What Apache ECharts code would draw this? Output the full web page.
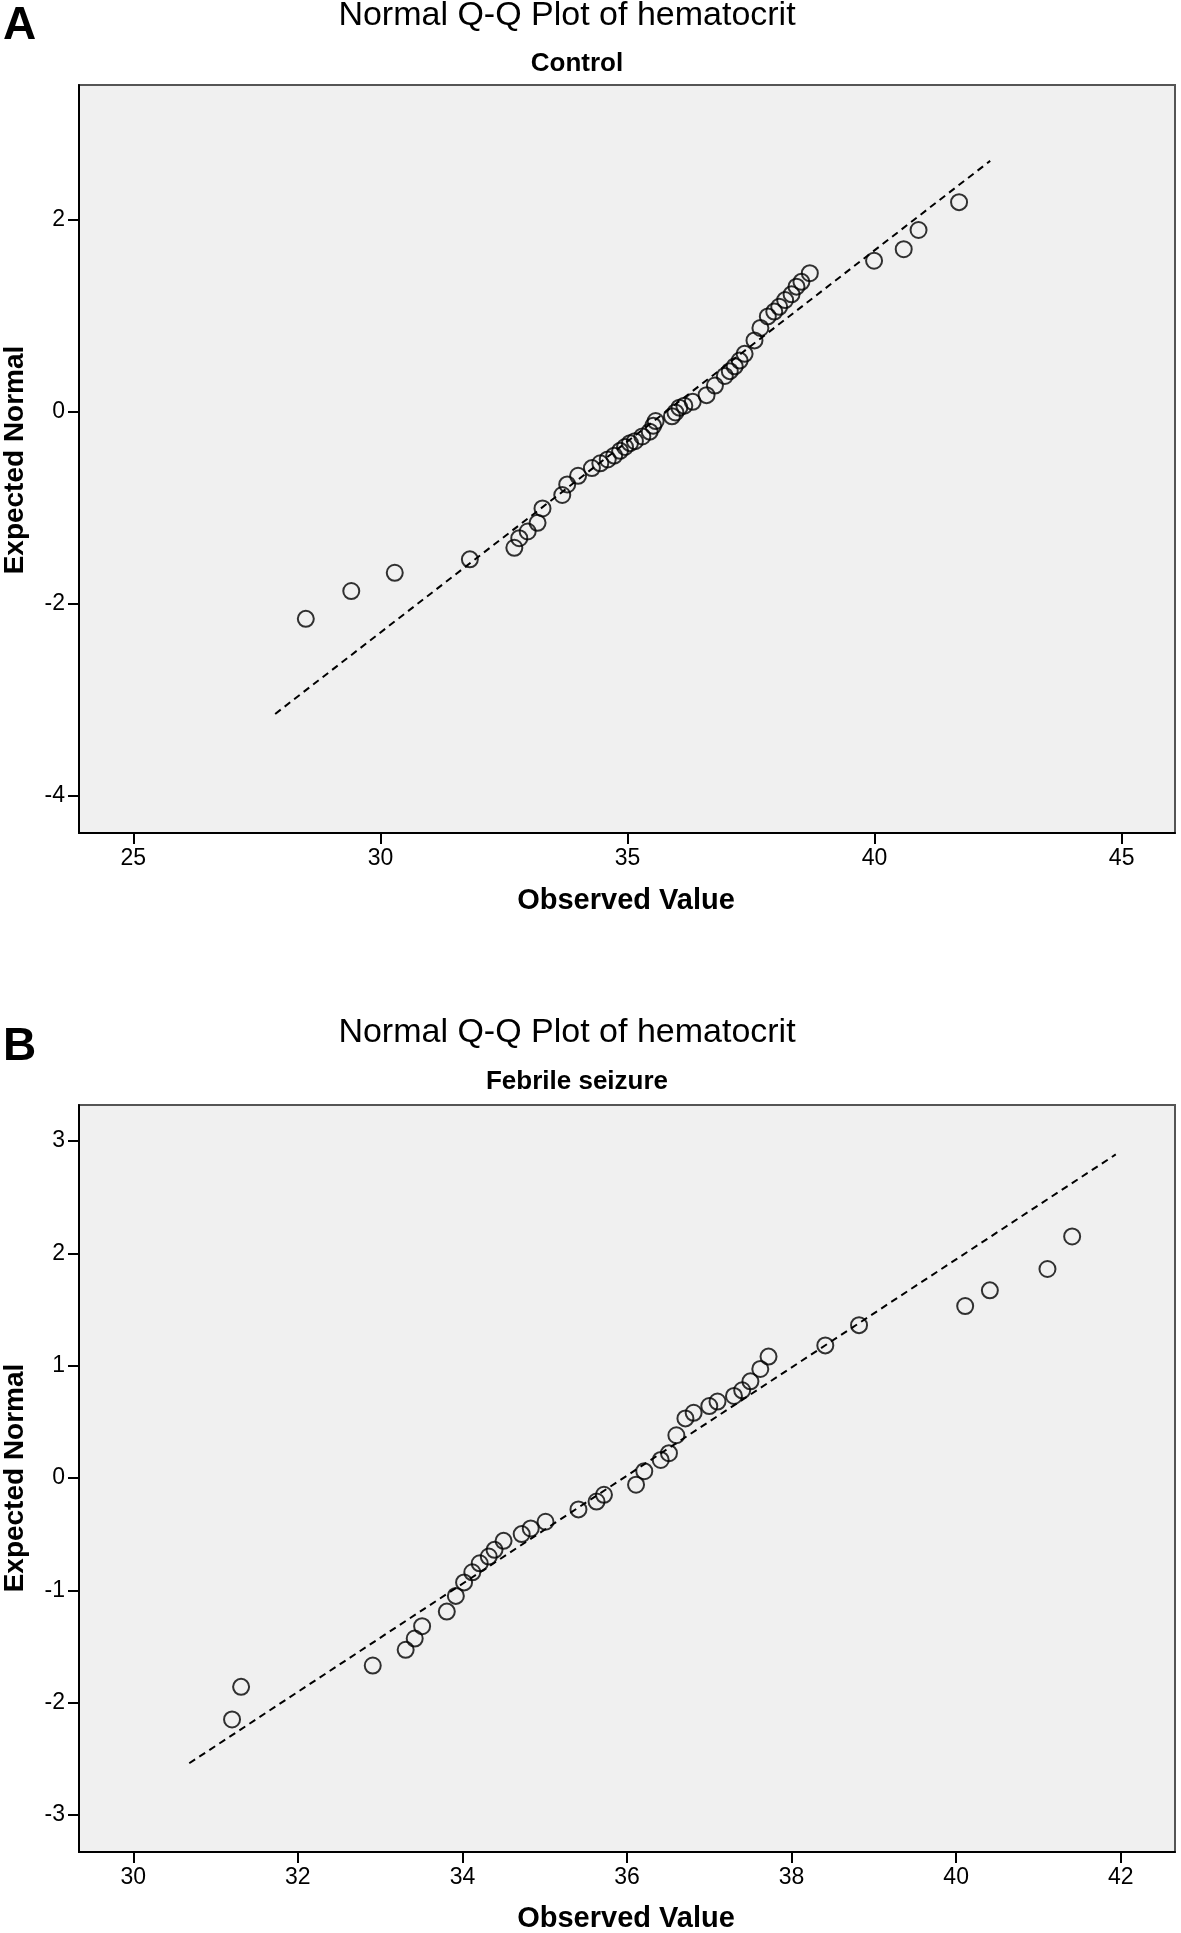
<!DOCTYPE html>
<html>
<head>
<meta charset="utf-8">
<script src="https://cdn.jsdelivr.net/npm/echarts@6/dist/echarts.min.js"></script>
<style>
  html, body { margin: 0; padding: 0; background: #fff; }
  #chart { width: 1181px; height: 1933px; }
</style>
</head>
<body>
<div id="chart"></div>
<script>
// tick labels
const xTicksA = [25, 30, 35, 40, 45];
const yTicksA = [-4, -2, 0, 2];
const xTicksB = [30, 32, 34, 36, 38, 40, 42];
const yTicksB = [-3, -2, -1, 0, 1, 2, 3];

// panel A - Control (observed hematocrit, expected normal)
const controlObserved = [28.49, 29.41, 30.29, 31.81, 32.71, 32.81, 32.98, 33.18, 33.28, 33.68,
  33.78, 34.00, 34.28, 34.45, 34.60, 34.73, 34.85, 34.95, 35.05, 35.15,
  35.30, 35.45, 35.52, 35.57, 35.90, 35.97, 36.05, 36.15, 36.32, 36.60,
  36.77, 36.97, 37.07, 37.17, 37.27, 37.37, 37.57, 37.69, 37.84, 37.97,
  38.07, 38.19, 38.32, 38.42, 38.52, 38.69, 39.99, 40.59, 40.89, 41.71];
const controlExpected = [-2.16, -1.87, -1.68, -1.54, -1.42, -1.32, -1.25, -1.16, -1.01, -0.87,
  -0.76, -0.67, -0.59, -0.54, -0.50, -0.46, -0.41, -0.37, -0.33, -0.31,
  -0.26, -0.21, -0.15, -0.10, -0.05, -0.01, 0.04, 0.06, 0.10, 0.17,
  0.27, 0.37, 0.42, 0.47, 0.53, 0.60, 0.74, 0.87, 0.99, 1.04,
  1.09, 1.16, 1.22, 1.30, 1.35, 1.44, 1.57, 1.69, 1.89, 2.18];
const controlLineX = [27.87, 42.34];
const controlLineY = [-3.15, 2.61];

// panel B - Febrile seizure
const febrileObserved = [31.20, 31.31, 32.91, 33.31, 33.42, 33.51, 33.81, 33.92, 34.02, 34.12,
  34.21, 34.32, 34.39, 34.50, 34.72, 34.83, 35.01, 35.41, 35.63, 35.72,
  36.11, 36.21, 36.41, 36.51, 36.60, 36.71, 36.81, 37.00, 37.10, 37.30,
  37.40, 37.50, 37.62, 37.72, 38.41, 38.82, 40.11, 40.41, 41.11, 41.41];
const febrileExpected = [-2.15, -1.86, -1.67, -1.53, -1.43, -1.32, -1.19, -1.05, -0.93, -0.84,
  -0.76, -0.70, -0.64, -0.56, -0.50, -0.45, -0.39, -0.28, -0.21, -0.15,
  -0.06, 0.06, 0.16, 0.22, 0.38, 0.53, 0.58, 0.64, 0.68, 0.73,
  0.78, 0.86, 0.97, 1.08, 1.18, 1.36, 1.53, 1.67, 1.86, 2.15];
const febrileLineX = [30.68, 41.94];
const febrileLineY = [-2.54, 2.88];

const chart = echarts.init(document.getElementById('chart'));

const pairs = (xs, ys) => xs.map((x, i) => [x, ys[i]]);

function axisOf(gridIndex, min, max, ticks) {
  return {
    type: 'value', gridIndex: gridIndex, min: min, max: max,
    axisLine: { show: true, onZero: false, lineStyle: { color: '#000', width: 2 } },
    axisTick: { show: true, length: 11, customValues: ticks, lineStyle: { color: '#000', width: 2 } },
    axisLabel: { customValues: ticks, margin: 14, color: '#000', fontSize: 23, fontFamily: 'Liberation Sans' },
    splitLine: { show: false }
  };
}

const pointStyle = { color: 'transparent', borderColor: '#000', borderWidth: 2 };
const lineStyle = { color: '#000', width: 2, type: [7, 5] };

function txt(x, y, text, font, align, rotation) {
  return {
    type: 'text', x: x, y: y, rotation: rotation || 0, silent: true,
    style: { text: text, font: font, fill: '#000', textAlign: align || 'center', textVerticalAlign: 'middle' }
  };
}

chart.setOption({
  backgroundColor: '#fff',
  animation: false,
  grid: [
    { left: 79, top: 85, width: 1096, height: 748, show: true, backgroundColor: '#f0f0f0', borderColor: '#555', borderWidth: 2 },
    { left: 79, top: 1105, width: 1096, height: 747, show: true, backgroundColor: '#f0f0f0', borderColor: '#555', borderWidth: 2 }
  ],
  xAxis: [
    axisOf(0, 23.9, 46.08, xTicksA),
    axisOf(1, 29.34, 42.66, xTicksB)
  ],
  yAxis: [
    axisOf(0, -4.39, 3.40, yTicksA),
    axisOf(1, -3.33, 3.32, yTicksB)
  ],
  graphic: [
    txt(3, 26, 'A', 'bold 46px "Liberation Sans"', 'left'),
    txt(567, 16, 'Normal Q-Q Plot of hematocrit', '34px "Liberation Sans"'),
    txt(577, 64, 'Control', 'bold 26px "Liberation Sans"'),
    txt(626, 901, 'Observed Value', 'bold 29px "Liberation Sans"'),
    txt(15, 460, 'Expected Normal', 'bold 28px "Liberation Sans"', 'center', Math.PI / 2),
    txt(3, 1047, 'B', 'bold 46px "Liberation Sans"', 'left'),
    txt(567, 1033, 'Normal Q-Q Plot of hematocrit', '34px "Liberation Sans"'),
    txt(577, 1082, 'Febrile seizure', 'bold 26px "Liberation Sans"'),
    txt(626, 1919, 'Observed Value', 'bold 29px "Liberation Sans"'),
    txt(15, 1478, 'Expected Normal', 'bold 28px "Liberation Sans"', 'center', Math.PI / 2)
  ],
  series: [
    { type: 'line', xAxisIndex: 0, yAxisIndex: 0, data: pairs(controlLineX, controlLineY), symbol: 'none', lineStyle: lineStyle, z: 2 },
    { type: 'scatter', xAxisIndex: 0, yAxisIndex: 0, data: pairs(controlObserved, controlExpected), symbol: 'circle', symbolSize: 16, itemStyle: pointStyle, z: 3 },
    { type: 'line', xAxisIndex: 1, yAxisIndex: 1, data: pairs(febrileLineX, febrileLineY), symbol: 'none', lineStyle: lineStyle, z: 2 },
    { type: 'scatter', xAxisIndex: 1, yAxisIndex: 1, data: pairs(febrileObserved, febrileExpected), symbol: 'circle', symbolSize: 16, itemStyle: pointStyle, z: 3 }
  ]
});
window.addEventListener('resize', chart.resize);
</script>
</body>
</html>
